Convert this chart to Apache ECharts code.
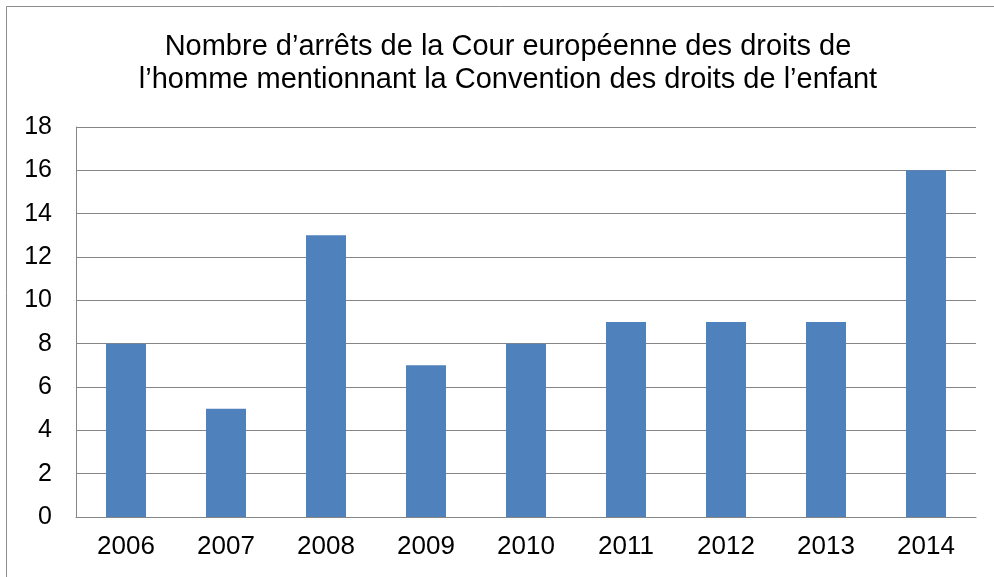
<!DOCTYPE html>
<html lang="fr">
<head>
<meta charset="UTF-8">
<title>Arrêts CEDH</title>
<script src="https://cdn.jsdelivr.net/npm/echarts@6/dist/echarts.min.js"></script>
<style>
  html, body { margin: 0; padding: 0; background: #fff; }
  #chart { width: 994px; height: 577px; }
</style>
</head>
<body>
<div id="chart"></div>
<script>
// données
var years = ['2006', '2007', '2008', '2009', '2010', '2011', '2012', '2013', '2014'];
var arrets = [8, 5, 13, 7, 8, 9, 9, 9, 16];

var font = '"Liberation Sans", Arial, sans-serif';

var chart = echarts.init(document.getElementById('chart'));
chart.setOption({
  animation: false,
  backgroundColor: '#fff',
  title: {
    text: 'Nombre d\u2019arrêts de la Cour européenne des droits de\nl\u2019homme mentionnant la Convention des droits de l\u2019enfant',
    left: 503,
    top: 25,
    textAlign: 'center',
    textStyle: { fontFamily: font, fontSize: 29, fontWeight: 'normal', color: '#000', lineHeight: 33.5 }
  },
  // cadre gauche/haut
  graphic: [{
    type: 'rect',
    shape: { x: 6.5, y: 6.5, width: 2000, height: 2000 },
    style: { fill: 'none', stroke: '#8c8c8c', lineWidth: 1 },
    silent: true
  }],
  grid: { left: 76, right: 18, top: 127, bottom: 60 },
  xAxis: {
    type: 'category',
    data: years,
    axisLine: { lineStyle: { color: '#868686', width: 1 } },
    axisTick: { show: false },
    axisLabel: { color: '#000', fontFamily: font, fontSize: 26, margin: 17 }
  },
  yAxis: {
    type: 'value',
    min: 0,
    max: 18,
    interval: 2,
    axisLine: { show: true, lineStyle: { color: '#868686', width: 1 } },
    axisTick: { show: false },
    splitLine: { lineStyle: { color: '#868686', width: 1 } },
    axisLabel: { color: '#000', fontFamily: font, fontSize: 25, margin: 24 }
  },
  series: [{
    type: 'bar',
    data: arrets,
    barWidth: '40%',
    itemStyle: { color: '#4F81BD' }
  }]
});
</script>
</body>
</html>
